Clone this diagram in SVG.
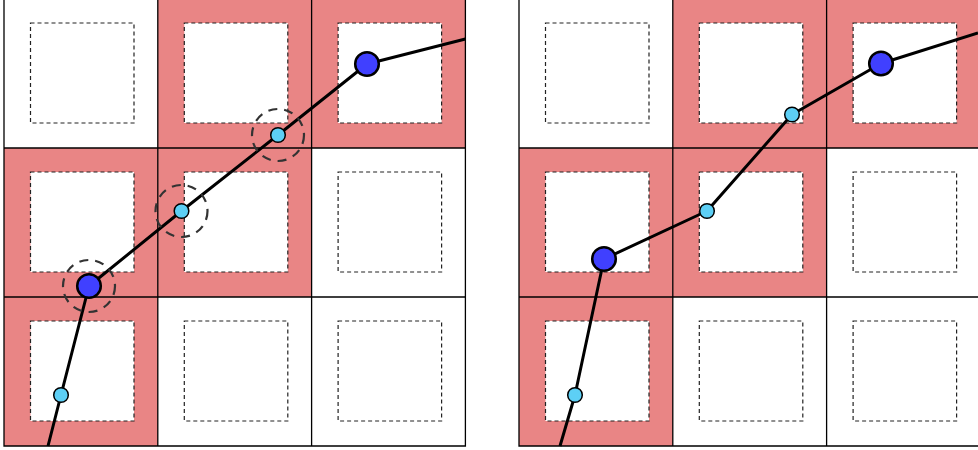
<svg xmlns="http://www.w3.org/2000/svg" width="978" height="450" viewBox="0 0 978 450">
<style>
.bg{fill:#ffffff}
.red{fill:#E98585}
.inner{fill:#ffffff;stroke:#222222;stroke-width:1.2;stroke-dasharray:4 3}
.grid{fill:none;stroke:#000000;stroke-width:1.3}
.path{fill:none;stroke:#000000;stroke-width:3;stroke-linejoin:round}
.big{fill:#4040FF;stroke:#000000;stroke-width:2.5}
.small{fill:#5DCFF5;stroke:#000000;stroke-width:1.5}
.halo{fill:none;stroke:#333333;stroke-width:2.2;stroke-dasharray:9 7}
</style>
<rect x="0" y="0" width="978" height="450" fill="#ffffff"/>
<g id="left-grid">
<rect class="red" x="157.8" y="-1" width="153.8" height="149"/>
<rect class="red" x="311.6" y="-1" width="153.8" height="149"/>
<rect class="red" x="4" y="148" width="153.8" height="149"/>
<rect class="red" x="157.8" y="148" width="153.8" height="149"/>
<rect class="red" x="4" y="297" width="153.8" height="149"/>
<rect class="inner" x="30.5" y="23" width="103.5" height="100"/>
<rect class="inner" x="184.3" y="23" width="103.5" height="100"/>
<rect class="inner" x="338.1" y="23" width="103.5" height="100"/>
<rect class="inner" x="30.5" y="172" width="103.5" height="100"/>
<rect class="inner" x="184.3" y="172" width="103.5" height="100"/>
<rect class="inner" x="338.1" y="172" width="103.5" height="100"/>
<rect class="inner" x="30.5" y="321" width="103.5" height="100"/>
<rect class="inner" x="184.3" y="321" width="103.5" height="100"/>
<rect class="inner" x="338.1" y="321" width="103.5" height="100"/>
<path class="grid" d="M4,-1V446H465.4V-1Z M157.8,-1V446 M311.6,-1V446 M4,148H465.4 M4,297H465.4"/>
</g>
<g id="right-grid">
<rect class="red" x="672.8" y="-1" width="153.8" height="149"/>
<rect class="red" x="826.6" y="-1" width="153.8" height="149"/>
<rect class="red" x="519" y="148" width="153.8" height="149"/>
<rect class="red" x="672.8" y="148" width="153.8" height="149"/>
<rect class="red" x="519" y="297" width="153.8" height="149"/>
<rect class="inner" x="545.5" y="23" width="103.5" height="100"/>
<rect class="inner" x="699.3" y="23" width="103.5" height="100"/>
<rect class="inner" x="853.1" y="23" width="103.5" height="100"/>
<rect class="inner" x="545.5" y="172" width="103.5" height="100"/>
<rect class="inner" x="699.3" y="172" width="103.5" height="100"/>
<rect class="inner" x="853.1" y="172" width="103.5" height="100"/>
<rect class="inner" x="545.5" y="321" width="103.5" height="100"/>
<rect class="inner" x="699.3" y="321" width="103.5" height="100"/>
<rect class="inner" x="853.1" y="321" width="103.5" height="100"/>
<path class="grid" d="M519,-1V446H980.4V-1Z M672.8,-1V446 M826.6,-1V446 M519,148H980.4 M519,297H980.4"/>
</g>
<g id="connectors">
<polyline class="path" points="48,446 61,395 89,286 181.5,211 278,135 367,64 465.4,39"/>
<polyline class="path" points="560,446 575,395 604,259 707,211 792,114.5 881,63.5 978,33"/>
</g>
<g id="halos">
<circle class="halo" cx="89" cy="286" r="26"/>
<circle class="halo" cx="181.5" cy="211" r="26"/>
<circle class="halo" cx="278" cy="135" r="26"/>
</g>
<g id="L1"><circle class="small" cx="61" cy="395" r="7.3"/></g>
<g id="L2"><circle class="big" cx="89" cy="286" r="11.8"/></g>
<g id="L3"><circle class="small" cx="181.5" cy="211" r="7.3"/></g>
<g id="L4"><circle class="small" cx="278" cy="135" r="7.3"/></g>
<g id="L5"><circle class="big" cx="367" cy="64" r="11.8"/></g>
<g id="R1"><circle class="small" cx="575" cy="395" r="7.3"/></g>
<g id="R2"><circle class="big" cx="604" cy="259" r="11.8"/></g>
<g id="R3"><circle class="small" cx="707" cy="211" r="7.3"/></g>
<g id="R4"><circle class="small" cx="792" cy="114.5" r="7.3"/></g>
<g id="R5"><circle class="big" cx="881" cy="63.5" r="11.8"/></g>
</svg>
